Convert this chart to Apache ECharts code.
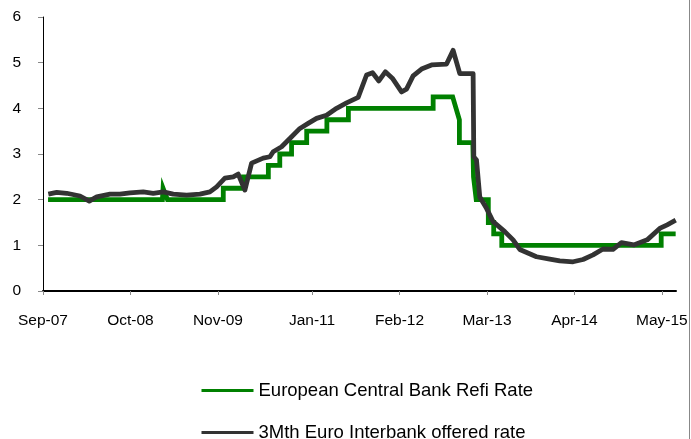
<!DOCTYPE html>
<html>
<head>
<meta charset="utf-8">
<script src="https://cdn.jsdelivr.net/npm/echarts@6/dist/echarts.min.js"></script>
<style>
  html, body { margin: 0; padding: 0; background: #fff; }
  #chart { width: 691px; height: 439px; }
</style>
</head>
<body>
<div id="chart"></div>
<script>
// Months since Sep-2007 (x) and rates (%)
var refiMonths = [0.75, 17.75, 17.85, 18.5, 26.8, 26.8, 29.8, 29.8, 33.5, 33.5, 35.2, 35.2, 36.95, 36.95, 39.2, 39.2, 42.2, 42.2, 45.4, 45.4, 58.0, 58.0, 60.9, 61.9, 61.9, 63.9, 64.0, 64.4, 66.2, 66.2, 67.0, 67.0, 68.2, 68.2, 91.9, 91.9, 94.05];
var refiRates  = [2.0, 2.0, 2.25, 2.0, 2.0, 2.25, 2.25, 2.5, 2.5, 2.75, 2.75, 3.0, 3.0, 3.25, 3.25, 3.5, 3.5, 3.75, 3.75, 4.0, 4.0, 4.25, 4.25, 3.75, 3.25, 3.25, 2.5, 2.0, 2.0, 1.5, 1.5, 1.25, 1.25, 1.0, 1.0, 1.25, 1.25];

var euriborMonths = [0.79, 2.04, 3.52, 5.50, 6.88, 7.98, 9.96, 11.44, 12.93, 14.90, 16.39, 17.88, 19.36, 21.35, 23.33, 24.81, 25.81, 27.04, 28.28, 29.02, 30.01, 31.01, 32.73, 33.73, 34.22, 35.47, 36.70, 38.19, 39.42, 40.67, 42.15, 43.64, 45.13, 46.85, 48.10, 48.99, 49.93, 50.89, 51.93, 53.30, 54.04, 55.02, 56.27, 57.76, 59.99, 60.97, 61.96, 63.94, 64.04, 64.44, 64.93, 65.93, 66.91, 68.65, 69.88, 70.88, 73.36, 75.33, 76.82, 78.80, 80.28, 81.77, 83.25, 84.74, 85.99, 87.82, 89.82, 91.68, 92.79, 94.06];
var euriborRates  = [2.12, 2.16, 2.14, 2.08, 1.97, 2.06, 2.12, 2.12, 2.15, 2.17, 2.14, 2.17, 2.12, 2.10, 2.12, 2.17, 2.28, 2.47, 2.50, 2.56, 2.21, 2.80, 2.91, 2.94, 3.05, 3.16, 3.34, 3.56, 3.67, 3.78, 3.85, 4.00, 4.12, 4.24, 4.73, 4.78, 4.60, 4.80, 4.66, 4.36, 4.42, 4.71, 4.86, 4.95, 4.97, 5.27, 4.76, 4.76, 2.94, 2.87, 2.06, 1.81, 1.52, 1.30, 1.12, 0.91, 0.75, 0.70, 0.66, 0.64, 0.69, 0.79, 0.92, 0.91, 1.06, 1.01, 1.12, 1.37, 1.45, 1.55];

var tickMonths = [0, 13, 26, 40, 53, 66, 79, 92];
var tickLabels = ['Sep-07', 'Oct-08', 'Nov-09', 'Jan-11', 'Feb-12', 'Mar-13', 'Apr-14', 'May-15'];

var seriesNames = ['European Central Bank Refi Rate', '3Mth Euro Interbank offered rate'];

function zip(xs, ys) { return xs.map(function (x, i) { return [x, ys[i]]; }); }

var FONT = '"Liberation Sans", Arial, sans-serif';
var legendBase = {
  show: true, orient: 'vertical', left: 200, padding: 0,
  itemWidth: 52, itemHeight: 14,
  itemStyle: { opacity: 0 },
  lineStyle: { width: 3 },
  textStyle: { fontSize: 18.5, color: '#000', fontFamily: FONT }
};
var chart = echarts.init(document.getElementById('chart'), null, { renderer: 'canvas' });
chart.setOption({
  animation: false,
  backgroundColor: '#ffffff',
  textStyle: { fontFamily: FONT },
  grid: { left: 43, right: 15, top: 17, bottom: 148, containLabel: false },
  xAxis: {
    type: 'value', min: 0, max: 94.1,
    splitLine: { show: false },
    axisLine: { lineStyle: { color: '#000', width: 2 } },
    axisTick: { show: true, customValues: tickMonths, length: 4, lineStyle: { color: '#888' } },
    axisLabel: {
      customValues: tickMonths, margin: 22, fontSize: 15.5, color: '#000', fontFamily: FONT,
      formatter: function (v) { var i = tickMonths.indexOf(v); return i >= 0 ? tickLabels[i] : ''; }
    }
  },
  yAxis: {
    type: 'value', min: 0, max: 6, interval: 1,
    splitLine: { show: false },
    axisLine: { show: true, lineStyle: { color: '#000', width: 1 } },
    axisTick: { show: true, length: 5, lineStyle: { color: '#888' } },
    axisLabel: { margin: 22, fontSize: 15.5, color: '#000', fontFamily: FONT }
  },
  legend: [
    Object.assign({}, legendBase, { data: [seriesNames[0]], top: 381 }),
    Object.assign({}, legendBase, { data: [seriesNames[1]], top: 423 })
  ],
  series: [
    {
      name: seriesNames[0], type: 'line', data: zip(refiMonths, refiRates),
      symbol: 'none', color: '#008000',
      lineStyle: { color: '#008000', width: 4.8, join: 'miter', cap: 'butt' }
    },
    {
      name: seriesNames[1], type: 'line', data: zip(euriborMonths, euriborRates),
      symbol: 'none', color: '#333333',
      lineStyle: { color: '#333333', width: 4.8, join: 'round', cap: 'butt' }
    }
  ],
  graphic: [
    { type: 'line', shape: { x1: 689.5, y1: 0, x2: 689.5, y2: 439 }, style: { stroke: '#888', lineWidth: 1 } }
  ]
});
</script>
</body>
</html>
